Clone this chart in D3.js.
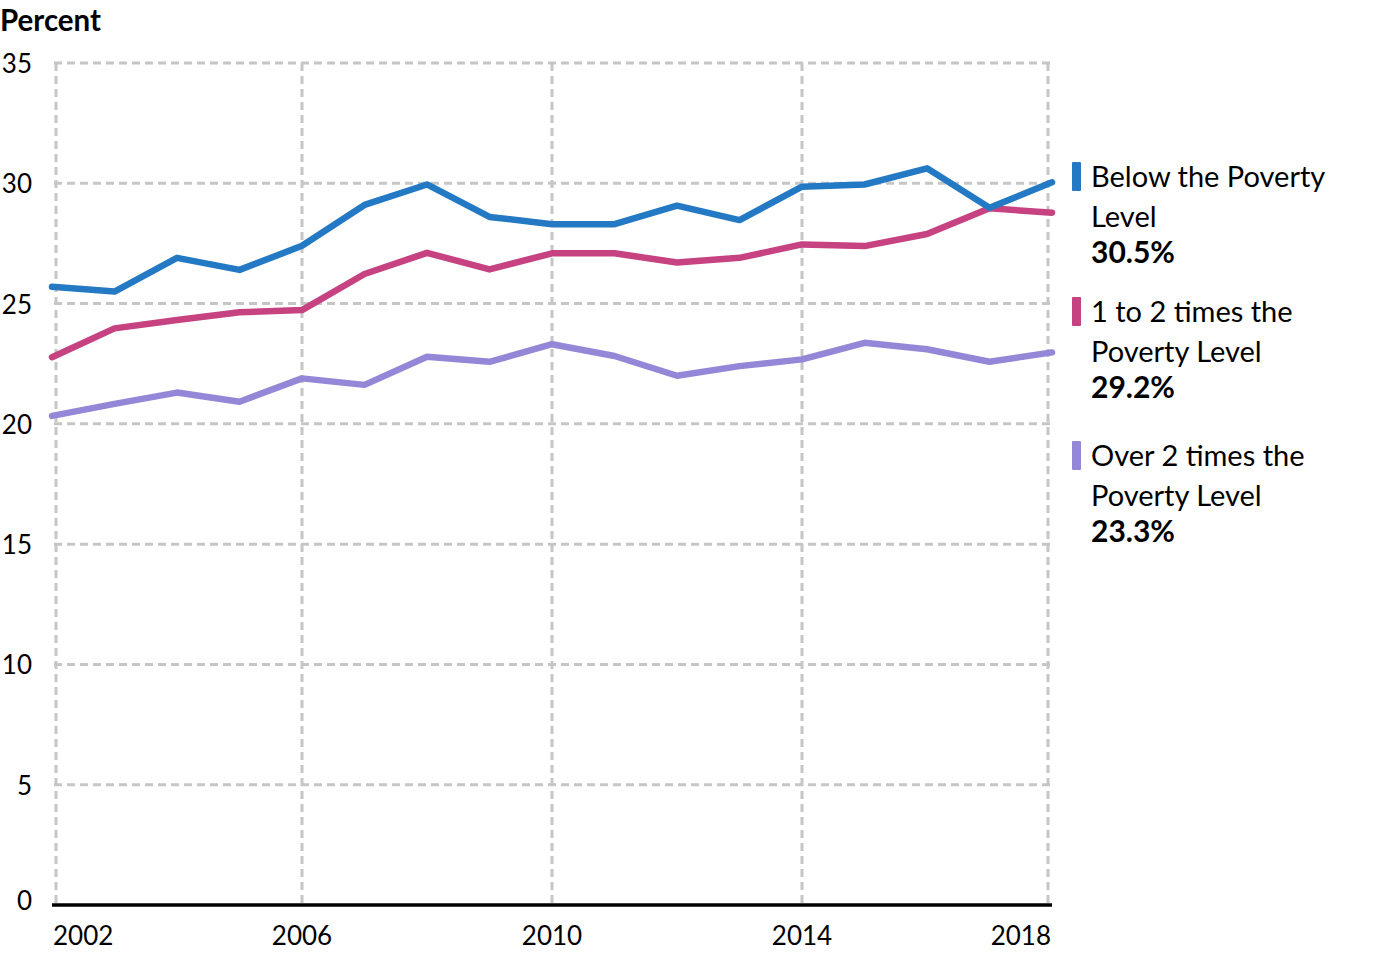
<!DOCTYPE html>
<html>
<head>
<meta charset="utf-8">
<script src="https://cdn.jsdelivr.net/npm/d3@7"></script>
<style>
  body { margin: 0; background: #fff; }
  svg text { font-family: "Source Sans Pro", Lato, "Noto Sans", sans-serif; fill: #000; }
</style>
</head>
<body>
<div id="chart"></div>
<script>
"use strict";

// data
const years = d3.range(2002, 2019);
const belowPoverty = [25.7, 25.5, 26.9, 26.4, 27.4, 29.1, 29.95, 28.6, 28.3, 28.3, 29.07, 28.47, 29.86, 29.95, 30.62, 28.98, 30.04];
const oneToTwo = [22.77, 23.97, 24.32, 24.64, 24.73, 26.23, 27.11, 26.42, 27.09, 27.09, 26.71, 26.9, 27.46, 27.39, 27.89, 28.96, 28.78];
const overTwo = [20.33, 20.83, 21.3, 20.92, 21.89, 21.62, 22.79, 22.58, 23.31, 22.82, 22.0, 22.4, 22.68, 23.37, 23.1, 22.58, 22.97];

const seriesNames = ["Below the Poverty Level", "1 to 2 times the Poverty Level", "Over 2 times the Poverty Level"];
const legendLines = [["Below the Poverty", "Level"], ["1 to 2 times the", "Poverty Level"], ["Over 2 times the", "Poverty Level"]];
const legendValues = ["30.5%", "29.2%", "23.3%"];
const colors = ["#2479c4", "#c64281", "#9587d8"];

const yTicks = [0, 5, 10, 15, 20, 25, 30, 35];
const xTicks = [2002, 2006, 2010, 2014, 2018];

var width = 1390;
var height = 955;

const x = d3.scaleLinear().domain([2002, 2018]).range([52, 1052]);
const y = d3.scaleLinear().domain([0, 35]).range([905, 63]);

const svg = d3.select("#chart")
  .append("svg")
  .attr("width", width)
  .attr("height", height);

// gridlines
svg.append("g")
  .selectAll("line")
  .data(yTicks.filter(d => d > 0))
  .join("line")
    .attr("x1", 54)
    .attr("x2", 1050)
    .attr("y1", d => y(d))
    .attr("y2", d => y(d))
    .attr("stroke", "#c6c6c6")
    .attr("stroke-width", 3)
    .attr("stroke-dasharray", "8,5");

svg.append("g")
  .selectAll("line")
  .data(xTicks)
  .join("line")
    .attr("x1", d => Math.max(56, Math.min(1048, x(d))))
    .attr("x2", d => Math.max(56, Math.min(1048, x(d))))
    .attr("y1", y(35))
    .attr("y2", y(0))
    .attr("stroke", "#c6c6c6")
    .attr("stroke-width", 3)
    .attr("stroke-dasharray", "8,5");

// baseline
svg.append("line")
  .attr("x1", 52)
  .attr("x2", 1052)
  .attr("y1", y(0))
  .attr("y2", y(0))
  .attr("stroke", "#000")
  .attr("stroke-width", 3.5);

// y tick labels
svg.append("g")
  .selectAll("text")
  .data(yTicks)
  .join("text")
    .attr("x", 32)
    .attr("y", d => y(d) + (d === 0 ? 5 : 10))
    .attr("text-anchor", "end")
    .attr("font-size", 26)
    .text(d => d);

// x tick labels
svg.append("g")
  .selectAll("text")
  .data(xTicks)
  .join("text")
    .attr("x", d => d === 2002 ? 53 : d === 2018 ? 1051 : x(d))
    .attr("y", 945)
    .attr("text-anchor", d => d === 2002 ? "start" : d === 2018 ? "end" : "middle")
    .attr("font-size", 26)
    .text(d => d);

svg.append("text")
  .attr("x", 0)
  .attr("y", 31)
  .attr("font-size", 29.5)
  .attr("font-weight", "bold")
  .text("Percent");

// lines
const allSeries = [belowPoverty, oneToTwo, overTwo];
const line = d3.line()
  .x((d, i) => x(years[i]))
  .y(d => y(d));

svg.append("g")
  .selectAll("path")
  .data(allSeries.slice().reverse())
  .join("path")
    .attr("d", line)
    .attr("fill", "none")
    .attr("stroke", (d, i) => colors[2 - i])
    .attr("stroke-width", 6.5)
    .attr("stroke-linejoin", "round")
    .attr("stroke-linecap", "round");

// legend
const legendTop = [162, 297, 441];
const legend = svg.append("g")
  .selectAll("g")
  .data(seriesNames)
  .join("g")
    .attr("transform", (d, i) => `translate(1072,${legendTop[i]})`);

legend.append("rect")
  .attr("width", 9)
  .attr("height", 29)
  .attr("rx", 1)
  .attr("fill", (d, i) => colors[i]);

legend.each(function(d, i) {
  const g = d3.select(this);
  legendLines[i].forEach((t, j) => {
    g.append("text")
      .attr("x", 19)
      .attr("y", 25 + j * 40)
      .attr("font-size", 29)
      .text(t);
  });
  g.append("text")
    .attr("x", 19)
    .attr("y", 101)
    .attr("font-size", 30)
    .attr("font-weight", "bold")
    .text(legendValues[i]);
});
</script>
</body>
</html>
